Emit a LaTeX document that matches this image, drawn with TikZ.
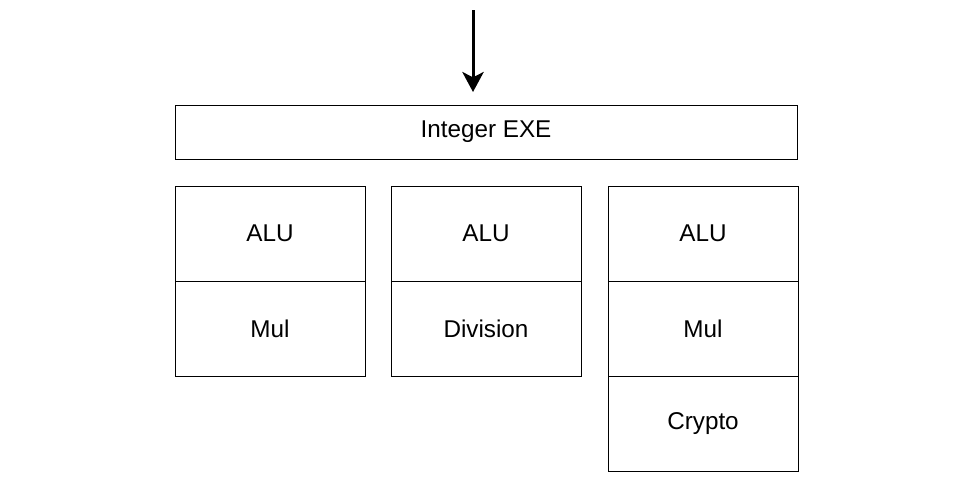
\documentclass[tikz,border=0pt]{standalone}
\usepackage{fontspec}
\setmainfont{Liberation Sans}
\usetikzlibrary{arrows.meta, positioning}

\tikzset{
    exebox/.style={draw, line width=0.75pt, minimum width=466.5pt, minimum height=40.5pt,
        inner sep=0pt, outer sep=0pt, font=\fontsize{18.2}{22}\selectfont},
    unitbox/.style={draw, line width=0.75pt, minimum width=142.5pt, minimum height=71.25pt,
        inner sep=0pt, outer sep=0pt, font=\fontsize{18.2}{22}\selectfont},
    flow/.style={line width=2.25pt, -{Stealth[length=15pt, width=16pt, inset=4pt]}}
}

\begin{document}
\begin{tikzpicture}[x=0.75pt, y=-0.75pt]
        \useasboundingbox (0,0) rectangle (973,482);

        % incoming arrow
        \coordinate (in) at (473,10);
        \coordinate (inend) at (473,92);
        \draw[flow] (in) -- (inend);

        \node[exebox, anchor=north west] (exe) at (175,105) {Integer EXE};

        % first pipe
        \node[unitbox, anchor=north west] (aluA) at (175,186) {ALU};
        \node[unitbox, below=0pt of aluA] (mulA) {Mul};

        % second pipe
        \node[unitbox, anchor=north west] (aluB) at (391,186) {ALU};
        \node[unitbox, below=0pt of aluB] (divB) {Division};

        % third pipe
        \node[unitbox, anchor=north west] (aluC) at (608,186) {ALU};
        \node[unitbox, below=0pt of aluC] (mulC) {Mul};
        \node[unitbox, below=0pt of mulC] (cryptoC) {Crypto};
    \end{tikzpicture}
\end{document}
